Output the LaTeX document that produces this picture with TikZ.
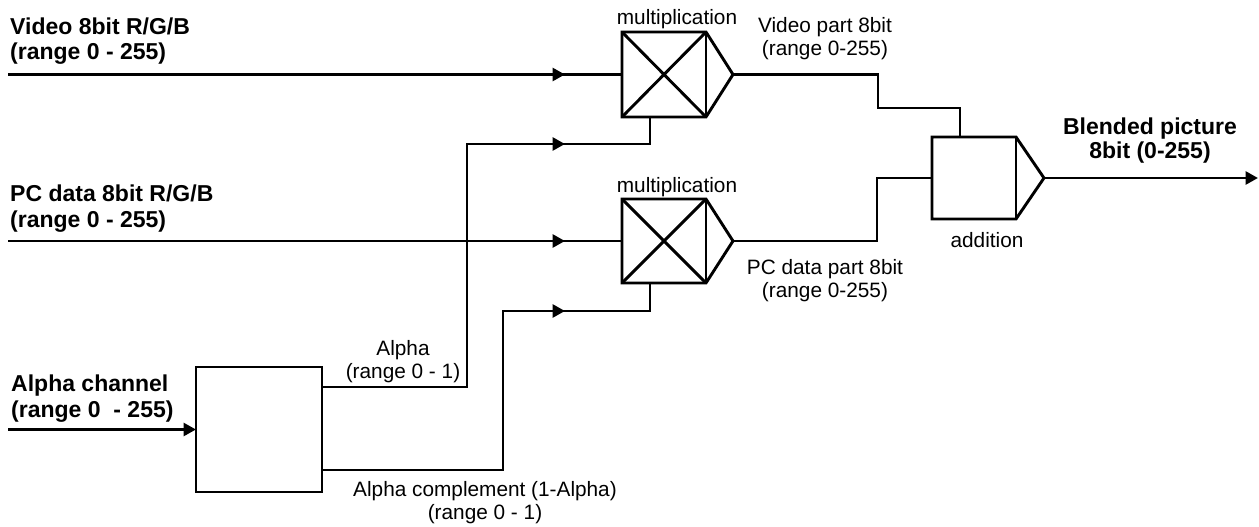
\documentclass[tikz,border=0pt]{standalone}
\usepackage{fontspec}
\setmainfont{Liberation Sans}
\usetikzlibrary{arrows.meta,decorations.markings,calc}
\begin{document}
\begin{tikzpicture}[x=1pt,y=-1pt,
  wire/.style={line width=2.9pt},
  endtip/.style={-{Triangle[length=12.5pt,width=13pt]}},
  midarrow/.style={postaction={decorate},decoration={markings,mark=at position #1 with {\arrow{Triangle[length=12.5pt,width=13pt]}}}},
  blk/.style={inner sep=0pt,outer sep=0pt},
  boldlbl/.style={font=\bfseries\fontsize{23}{25.5}\selectfont,inner sep=0pt,align=left},
  lbl/.style={font=\fontsize{20.8}{23}\selectfont,inner sep=0pt,align=center},
]
\useasboundingbox (0,0) rectangle (1259,527);

% blocks
\node[blk,minimum width=84pt,minimum height=85pt] (m1) at (664,74.5) {};
\node[blk,minimum width=84pt,minimum height=84pt] (m2) at (664,241) {};
\node[blk,minimum width=84pt,minimum height=82pt] (add) at (974,178) {};
\node[blk,draw,line width=2.9pt,minimum width=126pt,minimum height=125pt] (alph) at (259,429.5) {};

\coordinate (m1o) at ($(m1.east)+(27,0)$);
\coordinate (m2o) at ($(m2.east)+(27,0)$);
\coordinate (addo) at ($(add.east)+(28,0)$);

\foreach \m/\o in {m1/m1o,m2/m2o}{
  \draw[wire] (\m.north west) -- (\m.north east) -- (\o) -- (\m.south east) -- (\m.south west) -- cycle;
  \draw[wire] (\m.north east) -- (\m.south east);
  \draw[wire] (\m.north west) -- (\m.south east) (\m.south west) -- (\m.north east);
}
\draw[wire] (add.north west) -- (add.north east) -- (addo) -- (add.south east) -- (add.south west) -- cycle;
\draw[wire] (add.north east) -- (add.south east);

% coordinates
\coordinate (vin) at (8,74.5);
\coordinate (pin) at (8,241);
\coordinate (ain) at (8,429.5);
\coordinate (aa) at ($(alph.north east)+(0,20)$);
\coordinate (ac) at ($(alph.south east)+(0,-22)$);
\coordinate (m1in) at ($(m1.south west)+(28,0)$);
\coordinate (m2in) at ($(m2.south west)+(28,0)$);
\coordinate (addin) at ($(add.north)+(-14,0)$);
\coordinate (out) at (1258,178);

% wires
\draw[wire,midarrow=557pt] (vin) -- (m1.west);
\draw[wire,midarrow=557pt] (pin) -- (m2.west);
\draw[wire,endtip] (ain) -- (alph.west);
\draw[wire,midarrow=486pt] (aa) -| (467,144) -| (m1in);
\draw[wire,midarrow=402pt] (ac) -| (503,311) -| (m2in);
\draw[wire] (m1o) -| (878,108) -| (addin);
\draw[wire] (m2o) -| ($(add.west)+(-55,0)$) -- (add.west);
\draw[wire,endtip] (addo) -- (out);

% labels (base anchor = baseline of the last line)
\node[boldlbl,anchor=base west] (lv) at (10,60) {Video 8bit R/G/B\\(range 0 - 255)};
\node[boldlbl,anchor=base west] (lp) at (10,227) {PC data 8bit R/G/B\\(range 0 - 255)};
\node[boldlbl,anchor=base west] (la) at (11,417) {Alpha channel\\(range 0\ \ - 255)};
\node[lbl,anchor=base] (t1) at (677,25) {multiplication};
\node[lbl,anchor=base] (t2) at (677,192) {multiplication};
\node[lbl,anchor=base] (tv) at (825,56) {Video part 8bit\\(range 0-255)};
\node[lbl,anchor=base] (tp) at (825,297) {PC data part 8bit\\(range 0-255)};
\node[lbl,anchor=base] (tadd) at (987,247) {addition};
\node[boldlbl,align=center,anchor=base,font=\bfseries\fontsize{23}{24}\selectfont] (tb) at (1150,158) {Blended picture\\8bit (0-255)};
\node[lbl,anchor=base] (ta) at (403,378) {Alpha\\(range 0 - 1)};
\node[lbl,anchor=base] (tc) at (485,519) {Alpha complement (1-Alpha)\\(range 0 - 1)};
\end{tikzpicture}
\end{document}
